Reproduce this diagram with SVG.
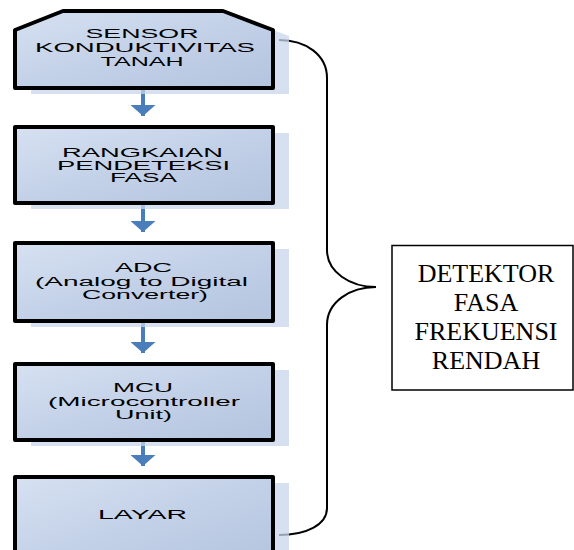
<svg xmlns="http://www.w3.org/2000/svg" width="574" height="550" viewBox="0 0 574 550">
<defs>
<linearGradient id="g" x1="0" y1="0" x2="1" y2="1">
<stop offset="0" stop-color="#d6e1f1"/>
<stop offset="0.5" stop-color="#c3d1e8"/>
<stop offset="1" stop-color="#b3c4de"/>
</linearGradient>
<marker id="ah" markerWidth="25" markerHeight="11" refX="12.5" refY="11" orient="0" markerUnits="userSpaceOnUse">
<path d="M0,0 L25,0 L12.5,11 Z" fill="#4a7ebb"/>
</marker>
<style>
.box{fill:url(#g);stroke:#000;stroke-width:4;stroke-linejoin:round}
.sh{fill:#c8d6ec;opacity:0.75}
.t{font-family:"Liberation Sans",Arial,sans-serif;font-size:12px;fill:#000;text-anchor:middle}
.c{stroke:#4a7ebb;stroke-width:4;fill:none}
.s{font-family:"Liberation Serif","Times New Roman",serif;font-size:26px;fill:#000;text-anchor:middle}
</style>
</defs>
<rect width="574" height="550" fill="#ffffff"/>
<g id="connectors">
<line class="c" x1="143" y1="88" x2="143" y2="116" marker-end="url(#ah)"/>
<line class="c" x1="143" y1="203" x2="143" y2="232" marker-end="url(#ah)"/>
<line class="c" x1="143" y1="321" x2="143" y2="353" marker-end="url(#ah)"/>
<line class="c" x1="143" y1="440" x2="143" y2="466" marker-end="url(#ah)"/>
<path d="M279,40 C306,40 327,55 327,78 L327,250 C327,272 350,287 376,287 C350,287 327,302 327,325 L327,508 C327,525 306,535 279,535" fill="none" stroke="#000" stroke-width="2"/>
</g>
<g id="sensor">
<path class="sh" d="M79,17 L239,17 L289,36 L289,94 L31,94 L31,36 Z"/>
<path class="box" d="M63,11 L223,11 L273,30 L273,88 L15,88 L15,30 Z"/>
<text class="t" x="142" y="38" textLength="113" lengthAdjust="spacingAndGlyphs">SENSOR</text>
<text class="t" x="145" y="52" textLength="220" lengthAdjust="spacingAndGlyphs">KONDUKTIVITAS</text>
<text class="t" x="142" y="66" textLength="83" lengthAdjust="spacingAndGlyphs">TANAH</text>
</g>
<g id="rangkaian">
<rect class="sh" x="31" y="133" width="258" height="76"/>
<rect class="box" x="15" y="127" width="258" height="76"/>
<text class="t" x="142.5" y="157" textLength="161" lengthAdjust="spacingAndGlyphs">RANGKAIAN</text>
<text class="t" x="143.5" y="169.5" textLength="173" lengthAdjust="spacingAndGlyphs">PENDETEKSI</text>
<text class="t" x="143.5" y="182" textLength="67" lengthAdjust="spacingAndGlyphs">FASA</text>
</g>
<g id="adc">
<rect class="sh" x="31" y="249" width="258" height="78"/>
<rect class="box" x="15" y="243" width="258" height="78"/>
<text class="t" x="143.5" y="272" textLength="57" lengthAdjust="spacingAndGlyphs">ADC</text>
<text class="t" x="141.5" y="286" textLength="213" lengthAdjust="spacingAndGlyphs">(Analog to Digital</text>
<text class="t" x="145" y="299" textLength="126" lengthAdjust="spacingAndGlyphs">Converter)</text>
</g>
<g id="mcu">
<rect class="sh" x="31" y="370" width="258" height="76"/>
<rect class="box" x="15" y="364" width="258" height="76"/>
<text class="t" x="143" y="392" textLength="60" lengthAdjust="spacingAndGlyphs">MCU</text>
<text class="t" x="144" y="406" textLength="192" lengthAdjust="spacingAndGlyphs">(Microcontroller</text>
<text class="t" x="143.5" y="419" textLength="57" lengthAdjust="spacingAndGlyphs">Unit)</text>
</g>
<g id="layar">
<rect class="sh" x="31" y="483" width="258" height="90"/>
<rect class="box" x="15" y="477" width="258" height="90"/>
<text class="t" x="142.5" y="519" textLength="89" lengthAdjust="spacingAndGlyphs">LAYAR</text>
</g>
<g id="detektor">
<rect x="392" y="245.5" width="181" height="144.5" fill="#ffffff" stroke="#000" stroke-width="1.5"/>
<text class="s" x="486" y="282">DETEKTOR</text>
<text class="s" x="486" y="311">FASA</text>
<text class="s" x="486" y="340">FREKUENSI</text>
<text class="s" x="486" y="369">RENDAH</text>
</g>
</svg>
